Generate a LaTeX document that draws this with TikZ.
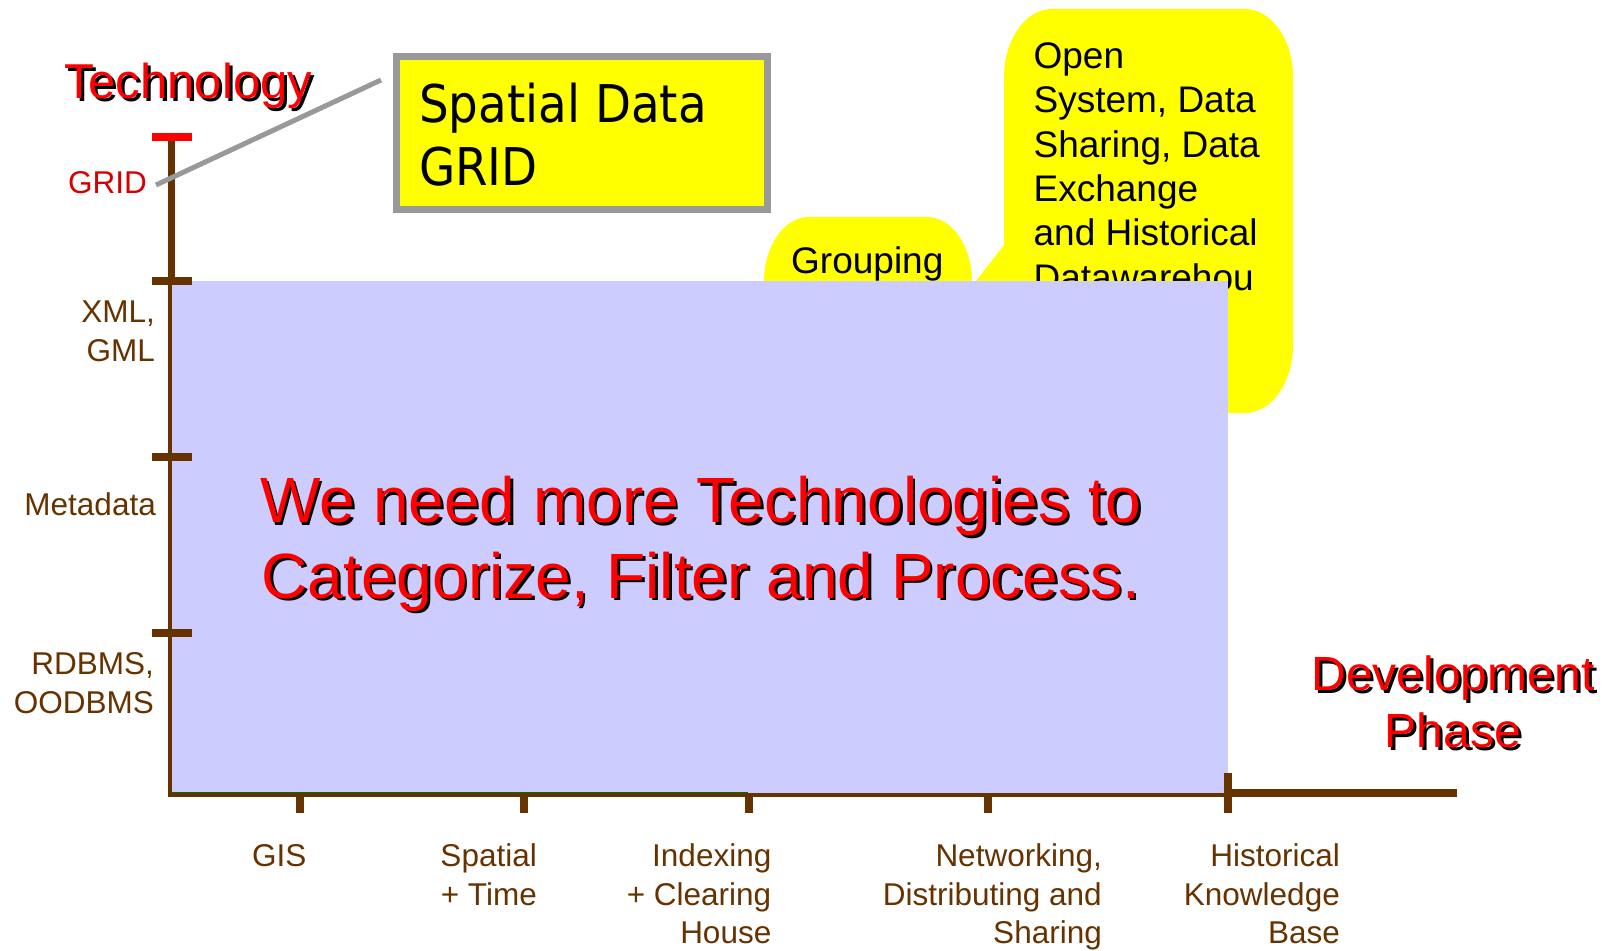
\documentclass[tikz,border=0pt]{standalone}
\usepackage{fontspec}
\setmainfont{Liberation Sans}
\newfontfamily\tahomalike{DejaVu Sans Condensed}
\definecolor{axbrown}{RGB}{102,51,0}
\definecolor{boxblue}{RGB}{204,204,255}
\definecolor{callyellow}{RGB}{255,255,0}
\definecolor{gridred}{RGB}{215,0,0}
\definecolor{linegray}{RGB}{153,153,153}
\definecolor{edgegreen}{RGB}{0,110,0}
\tikzset{
  axisline/.style={draw=axbrown, line width=7pt},
  ticky/.style={fill=axbrown},
  lab/.style={inner sep=0pt, text=axbrown, font=\fontsize{31.5}{38.3}\selectfont},
  bubble/.style={fill=callyellow},
  bubtext/.style={inner sep=0pt, text=black, align=left, font=\fontsize{37}{44.4}\selectfont},
  bigred/.style={inner sep=0pt, text=red, align=center},
  bigshadow/.style={inner sep=0pt, text=black, align=center},
}
\begin{document}
\begin{tikzpicture}[x=1pt,y=-1pt]
\useasboundingbox (0,0) rectangle (1613,950);
\fill[white] (0,0) rectangle (1613,950);

% axes
\coordinate (ytop) at (171,137);
\coordinate (ybot) at (171,797);
\coordinate (xleft) at (167.5,793);
\coordinate (xright) at (1457,793);
\draw[axisline, line width=7pt] (ytop) -- (ybot);
\draw[axisline, line width=8pt] (xleft) -- (xright);

% callouts
\path[bubble] (764,282) .. controls (764,246) and (784,217) .. (809,217) -- (927,217)
  .. controls (952,217) and (972,246) .. (972,282) -- (972,520) -- (764,520) -- cycle;
\node[bubtext, anchor=base west] (grouping) at (791,273.3) {Grouping};

\path[bubble] (1004,77) .. controls (1004,39.5) and (1025.5,9) .. (1052,9) -- (1245,9)
  .. controls (1271.5,9) and (1293,39.5) .. (1293,77) -- (1293,345)
  .. controls (1293,382.5) and (1271.5,413) .. (1245,413) -- (1052,413)
  .. controls (1025.5,413) and (1004,382.5) .. (1004,345) -- (1004,320) -- (934,335) -- (1004,245) -- cycle;
\node[bubtext, anchor=base west] (opensys) at (1033.4,290.3)
  {Open\\System, Data\\Sharing, Data\\Exchange\\and Historical\\Datawarehou};

% spatial data grid box
\node[draw=linegray, line width=7pt, fill=callyellow, minimum width=371pt, minimum height=153pt,
  anchor=north west, inner sep=0pt, outer sep=0pt] (spbox) at (396.5,56.5) {};
\node[inner sep=0pt, anchor=base west, align=left, font=\tahomalike\fontsize{52}{63}\selectfont] (sptext)
  at (419,185) {Spatial Data\\GRID};

% GRID label and connector
\node[inner sep=0pt, anchor=base east, text=gridred, font=\fontsize{31.5}{38.3}\selectfont] (gridlab) at (147,193) {GRID};
\coordinate (gridend) at (156,185);
\coordinate (boxend) at (381,80);
\draw[linegray, line width=5pt] (gridend) -- (boxend);

% red cap
\fill[red] (152,133) rectangle (192,141);

% blue box
\node[fill=boxblue, minimum width=1056pt, minimum height=512pt, anchor=north west, inner sep=0pt, outer sep=0pt] (bluebox) at (172,281) {};
\coordinate (gl) at (172,792.8);
\coordinate (gr) at (748,792.8);
\draw[edgegreen, line width=1.2pt] (gl) -- (gr);

% y ticks
\fill[ticky] (152,277) rectangle (192,285);
\fill[ticky] (152,453) rectangle (192,461);
\fill[ticky] (152,629) rectangle (192,637);

% x ticks
\fill[ticky] (296,797) rectangle (304,813);
\fill[ticky] (520,797) rectangle (528,813);
\fill[ticky] (744.5,797) rectangle (752.5,813);
\fill[ticky] (984,797) rectangle (992,813);
\fill[ticky] (1224,773) rectangle (1232,813);

% y labels
\node[lab, anchor=base east, align=right] (xml) at (155,361) {XML,\\GML};
\node[lab, anchor=base east, align=right] (meta) at (156,515) {Metadata};
\node[lab, anchor=base east, align=right] (rdbms) at (154,713) {RDBMS,\\OODBMS};

% x labels
\node[lab, anchor=base east, align=right] (gis) at (306.5,866.7) {GIS};
\node[lab, anchor=base east, align=right] (spt) at (537,905) {Spatial\\+ Time};
\node[lab, anchor=base east, align=right] (idx) at (771.5,943.3) {Indexing\\+ Clearing\\House};
\node[lab, anchor=base east, align=right] (net) at (1102,943.3) {Networking,\\Distributing and\\Sharing};
\node[lab, anchor=base east, align=right] (hist) at (1340,943.3) {Historical\\Knowledge\\Base};

% titles with shadow
\node[bigshadow, anchor=base west, font=\fontsize{49}{59}\selectfont] (techsh) at (67,101) {Technology};
\node[bigred, anchor=base west, font=\fontsize{49}{59}\selectfont] (tech) at (64,98) {Technology};

\node[bigshadow, anchor=base, font=\fontsize{48}{57}\selectfont] (devsh) at (1456,750.7) {Development\\Phase};
\node[bigred, anchor=base, font=\fontsize{48}{57}\selectfont] (dev) at (1453,747.7) {Development\\Phase};

\node[bigshadow, anchor=base, font=\fontsize{64}{75.7}\selectfont] (mainsh) at (703.5,600.9) {We need more Technologies to\\Categorize, Filter and Process.};
\node[bigred, anchor=base, font=\fontsize{64}{75.7}\selectfont] (main) at (701,598.4) {We need more Technologies to\\Categorize, Filter and Process.};
\end{tikzpicture}
\end{document}
